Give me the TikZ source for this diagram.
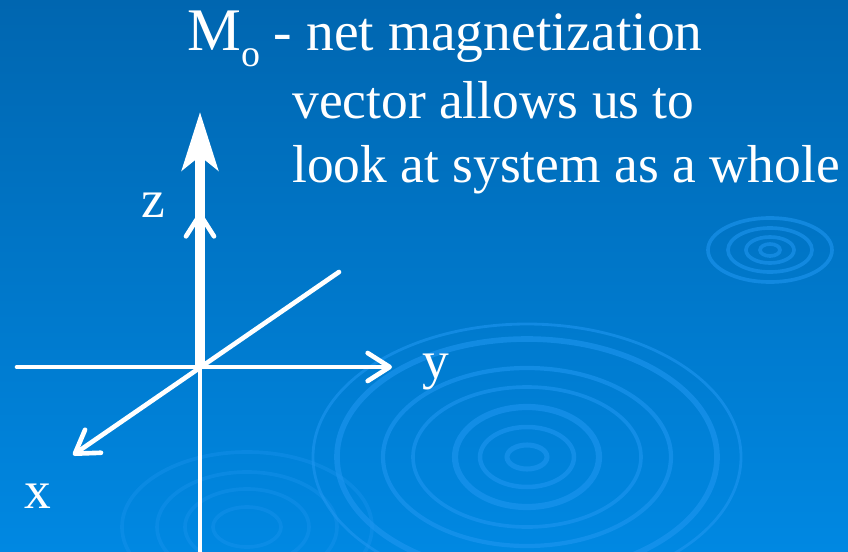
\documentclass[tikz,border=0pt]{standalone}
\usepackage{fontspec}
\setmainfont{Liberation Serif}
\usetikzlibrary{arrows.meta}
\definecolor{color_top}{RGB}{0,102,176}
\definecolor{color_bot}{RGB}{0,136,226}
\definecolor{color_ring}{RGB}{30,150,240}

\begin{document}
\begin{tikzpicture}[x=0.025cm, y=-0.025cm,
		axis/.style={white, line width=3.3pt, line cap=round},
		ring/.style={color_ring, opacity=0.6, line width=2.6pt},
		lbl/.style={white, anchor=base, inner sep=0pt},
		txt/.style={white, anchor=base west, inner sep=0pt}]
		% Fond bleu en degrade
		\shade[top color=color_top, bottom color=color_bot] (0,0) rectangle (848,552);
		\useasboundingbox (0,0) rectangle (848,552);
		
		% Ondes en arriere-plan
		\foreach \rx/\ry/\lw in {214/133/2.0, 190/118/4.0, 144/89/3.0, 114/70/2.6, 72/50/4.4, 47/30/3.2, 20/12/3.6}
		\draw[ring, line width=\lw pt] (527,457) ellipse [x radius=\rx, y radius=\ry];
		\foreach \rx/\ry in {62/32, 42/22, 24/13, 10/6}
		\draw[ring] (770,250) ellipse [x radius=\rx, y radius=\ry];
		\foreach \rx/\ry in {125/75, 90/55, 62/38, 34/20}
		\draw[ring, opacity=0.35] (247,527) ellipse [x radius=\rx, y radius=\ry];
		
		% Axes
		\coordinate (O) at (200,367);
		\coordinate (zbot) at (200,552);
		\coordinate (ztip) at (200,212);
		\coordinate (yend) at (17,367);
		\coordinate (ytip) at (392,367);
		\coordinate (xend) at (339,272);
		\coordinate (xtip) at (73,455);
		\coordinate (Mtip) at (200,112);
		\draw[axis, -{Straight Barb[round, length=0.55cm, width=0.7cm]}] (zbot) -- (ztip);
		\draw[axis, -{Straight Barb[round, length=0.55cm, width=0.7cm]}] (yend) -- (ytip);
		\draw[axis, -{Straight Barb[round, length=0.55cm, width=0.7cm]}] (xend) -- (xtip);
		
		% Vecteur Mo
		\draw[white, line width=7pt, -{Stealth[length=1.45cm, width=0.9cm, inset=0.35cm]}] (O) -- (Mtip);
		
		% Etiquettes des axes
		\node[lbl] (zlbl) at (153,217) {\fontsize{38}{44}\selectfont z};
		\node[lbl] (ylbl) at (436,378) {\fontsize{38}{44}\selectfont y};
		\node[lbl] (xlbl) at (38,508) {\fontsize{38}{44}\selectfont x};
		
		% Texte
		\node[txt] (l1) at (187,50) 
		{\fontsize{39.5}{44}\selectfont{\fontsize{43}{44}\selectfont M}\raisebox{-0.3em}{\fontsize{27}{27}\selectfont o} - net magnetization};
		\node[txt] (l2) at (292,118) 
		{\fontsize{38}{44}\selectfont vector allows us to};
		\node[txt] (l3) at (292,182) 
		{\fontsize{38}{44}\selectfont look at system as a whole};
	\end{tikzpicture}
\end{document}
